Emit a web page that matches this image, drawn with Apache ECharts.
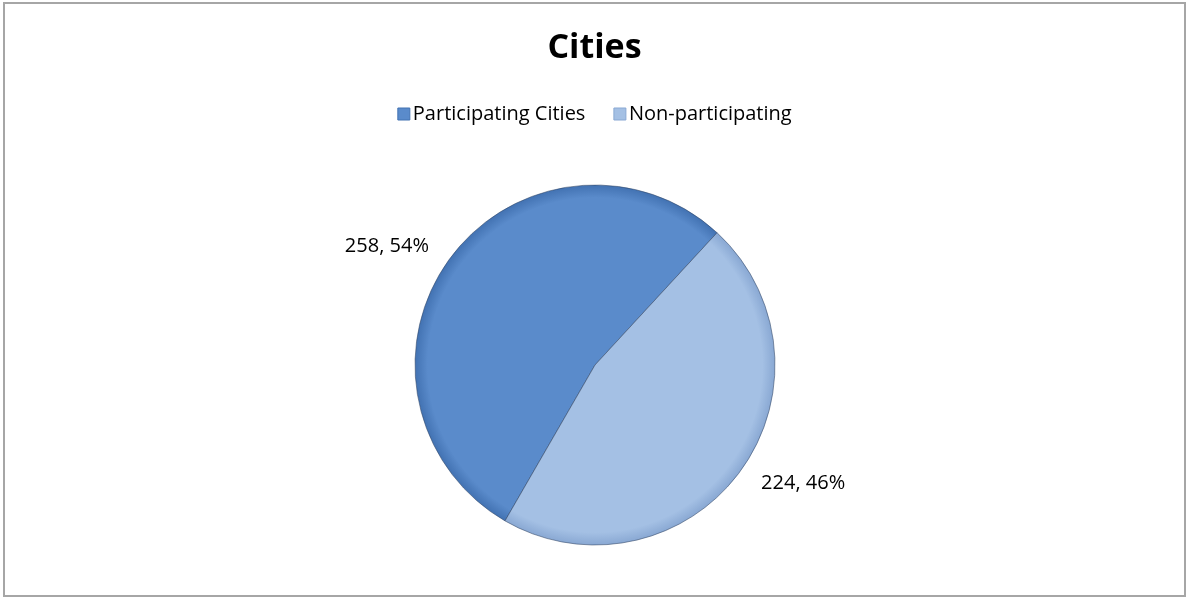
<!DOCTYPE html>
<html>
<head>
<meta charset="utf-8">
<script src="https://cdn.jsdelivr.net/npm/echarts@6/dist/echarts.min.js"></script>
<style>
  html, body { margin: 0; padding: 0; background: #fff; }
  #chart {
    position: absolute;
    left: 3px; top: 2px;
    width: 1183px; height: 595px;
    border: 2px solid #a6a6a6;
    box-sizing: border-box;
  }
</style>
</head>
<body>
<div id="chart"></div>
<script>
const categories = ['Participating Cities', 'Non-participating'];
const cityCounts = [258, 224];
const sliceColors = ['#5a8bcb', '#a4c0e4'];
const sliceEdges = ['#4272b2', '#89a8d3'];

const pieCenter = [590, 361];
const pieRadius = 180;

const chart = echarts.init(document.getElementById('chart'), null, { renderer: 'canvas' });

// global gradient so the bevel follows the whole disc, not each sector box
const pieData = categories.map((name, i) => ({
  name: name,
  value: cityCounts[i],
  itemStyle: {
    color: new echarts.graphic.RadialGradient(pieCenter[0], pieCenter[1], pieRadius, [
      { offset: 0, color: sliceColors[i] },
      { offset: 0.93, color: sliceColors[i] },
      { offset: 1, color: sliceEdges[i] }
    ], true)
  }
}));

const option = {
  backgroundColor: '#fff',
  animation: false,
  title: {
    text: 'Cities',
    left: 'center',
    top: 22,
    textStyle: {
      fontFamily: 'Open Sans',
      fontWeight: 'bold',
      fontSize: 34,
      color: '#000'
    }
  },
  legend: {
    data: categories.map((name, i) => ({
      name: name,
      icon: 'rect',
      itemStyle: { color: sliceColors[i], borderColor: sliceEdges[i], borderWidth: 1 }
    })),
    top: 95,
    left: 'center',
    itemWidth: 12,
    itemHeight: 12,
    itemGap: 28,
    textStyle: {
      fontFamily: 'Open Sans',
      fontSize: 20,
      color: '#000',
      padding: [0, 0, 0, -2]
    }
  },
  series: [
    {
      type: 'pie',
      center: pieCenter,
      radius: pieRadius,
      startAngle: 240,
      clockwise: true,
      data: pieData,
      itemStyle: {
        borderColor: 'rgba(50, 70, 100, 0.55)',
        borderWidth: 1
      },
      label: {
        show: true,
        position: 'outside',
        formatter: (p) => p.value + ', ' + Math.round(p.percent) + '%',
        fontFamily: 'Open Sans',
        fontSize: 20,
        color: '#000'
      },
      labelLine: { show: false, length: 20, length2: 0 },
      emphasis: { disabled: true }
    }
  ]
};

chart.setOption(option);
</script>
</body>
</html>
